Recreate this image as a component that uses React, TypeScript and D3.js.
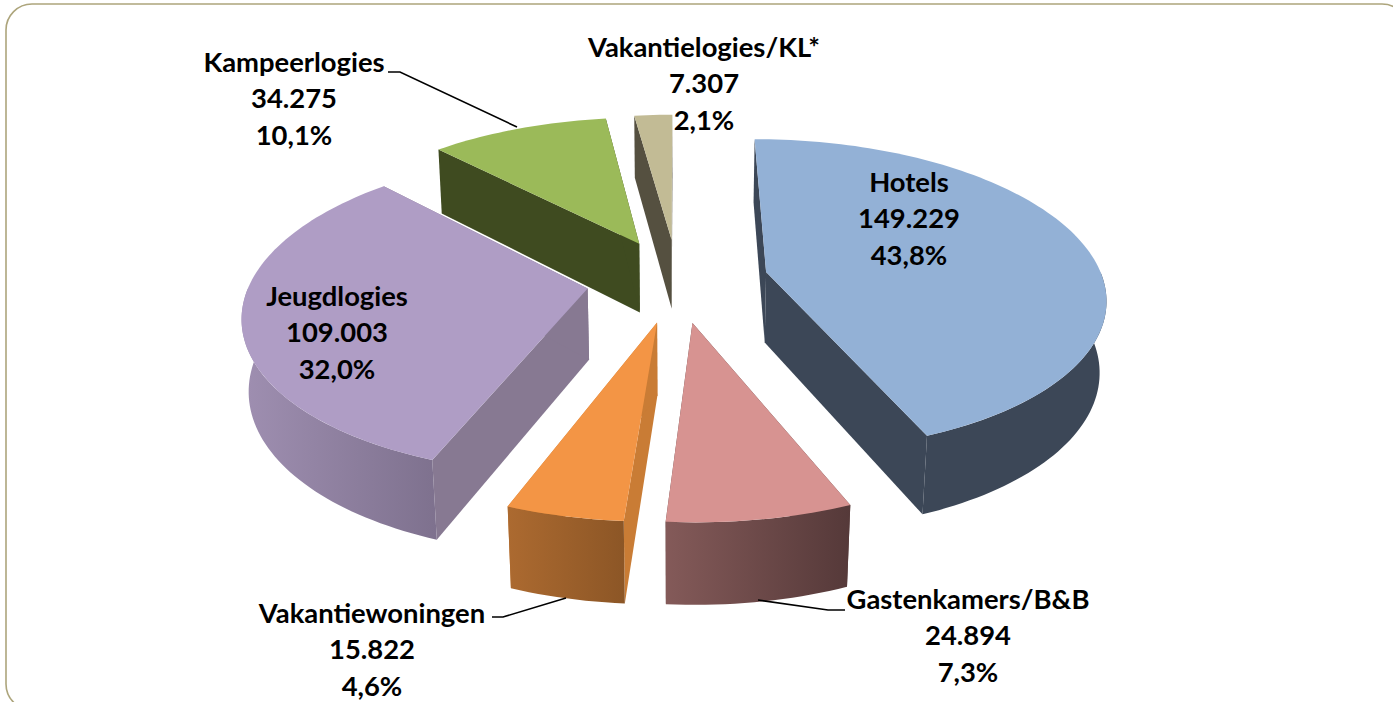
import React from 'react'
import * as d3 from 'd3'

const categories = ['Hotels', 'Gastenkamers/B&B', 'Vakantiewoningen', 'Jeugdlogies', 'Kampeerlogies', 'Vakantielogies/KL*']
const values = [149229, 24894, 15822, 109003, 34275, 7307]
const topColors = ['#93B1D6', '#D79391', '#F39545', '#AF9DC5', '#9BBA59', '#C2BB95']
const sideColors = ['#3C4757', '#5F4342', '#C97C35', '#877992', '#3F4B20', '#555040']
const wallFrom = ['#3C4757', '#845A59', '#AC6A30', '#9F8FB1', '#3F4B20', '#555040']
const wallTo = ['#3C4757', '#553939', '#8C5626', '#7E718E', '#3F4B20', '#555040']

// label centre x and first line baseline
const labelX = [909, 968, 372, 337, 294, 704]
const labelY = [192, 609, 623, 306, 72, 57]

// painter's order, back to front
const drawOrder = [5, 4, 0, 3, 2, 1]

const width = 1393
const height = 702
const cx = 677.5
const cy = 280
const rx = 337
const ry = 155
const depth = 72
const persp = 0.15
const perspZ = 0.016
const explode = 0.27
const startAngle = 0

const nl = d3.formatLocale({ decimal: ',', thousands: '.', grouping: [3], currency: ['€', ''] })
const fmtValue = nl.format(',d')
const fmtPct = nl.format('.1f')

// ground plane point (unit radius) to screen, z=0 is top face and z=1 the bottom
function project(X: number, Y: number, z: number): [number, number] {
  const s = 1 / (1 - persp * Y + perspZ * z)
  return [cx + rx * X * s, cy + (ry * Y + depth * z) * s]
}

const pathOf = d3.line<[number, number]>().x(d => d[0]).y(d => d[1])

export default function App() {
  const arcs = d3.pie<number>().sort(null).startAngle(startAngle).endAngle(startAngle + 2 * Math.PI)(values)
  const total = d3.sum(values)

  const slices = arcs.map((a, i) => {
    const mid = (a.startAngle + a.endAngle) / 2
    const ox = explode * Math.sin(mid)
    const oy = -explode * Math.cos(mid)
    const sweep = (from: number, to: number) => {
      const n = Math.max(4, Math.ceil((to - from) * 40))
      return d3.range(n + 1).map(k => from + ((to - from) * k) / n)
    }
    const rim = (ts: number[], z: number) => ts.map(t => project(ox + Math.sin(t), oy - Math.cos(t), z))
    const apex = (z: number) => project(ox, oy, z)
    const all = sweep(a.startAngle, a.endAngle)
    const topRim = rim(all, 0)
    const botRim = rim(all, 1)
    // the curved wall only shows on the front half of the pie
    const from = Math.max(a.startAngle, Math.PI / 2)
    const to = Math.min(a.endAngle, (3 * Math.PI) / 2)
    const front = to > from ? sweep(from, to) : []
    const last = all.length - 1
    return {
      i,
      top: pathOf([apex(0), ...topRim])! + 'Z',
      outer: front.length ? pathOf([...rim(front, 0), ...rim(front, 1).reverse()])! + 'Z' : '',
      wallA: pathOf([apex(0), topRim[0], botRim[0], apex(1)])! + 'Z',
      wallB: pathOf([apex(0), topRim[last], botRim[last], apex(1)])! + 'Z',
    }
  })

  return (
    <svg width={width} height={height} style={{ position: 'absolute', left: 0, top: 0, background: '#fff' }}>
      <defs>
        {categories.map((c, i) => (
          <linearGradient key={c} id={`wall-${i}`} x1="0" x2="1" y1="0" y2="0">
            <stop offset="0" stopColor={wallFrom[i]} />
            <stop offset="1" stopColor={wallTo[i]} />
          </linearGradient>
        ))}
      </defs>
      <rect x={6} y={4} width={1402} height={706} rx={26} ry={26} fill="#fff" stroke="#ADA57C" strokeWidth={1.6} />

      {drawOrder.map(k => {
        const s = slices[k]
        return (
          <g key={categories[k]}>
            <path d={s.wallA} fill={sideColors[k]} />
            <path d={s.wallB} fill={sideColors[k]} />
            {s.outer && <path d={s.outer} fill={`url(#wall-${k})`} />}
            <path d={s.top} fill={topColors[k]} />
          </g>
        )
      })}

      <g fill="none" stroke="#000" strokeWidth={1.6}>
        <polyline points="388,72 400,72 517,127" />
        <polyline points="492,617 503,617 566,598" />
        <polyline points="845,610 828,610 758,600" />
      </g>

      <g fontFamily="Lato, sans-serif" fontWeight={700} fontSize={27.4} fill="#000" textAnchor="middle">
        {categories.map((c, i) => (
          <text key={c} x={labelX[i]} y={labelY[i]}>
            <tspan x={labelX[i]}>{c}</tspan>
            <tspan x={labelX[i]} dy={36.3}>{fmtValue(values[i])}</tspan>
            <tspan x={labelX[i]} dy={36.3}>{fmtPct((values[i] / total) * 100)}%</tspan>
          </text>
        ))}
      </g>
    </svg>
  )
}
